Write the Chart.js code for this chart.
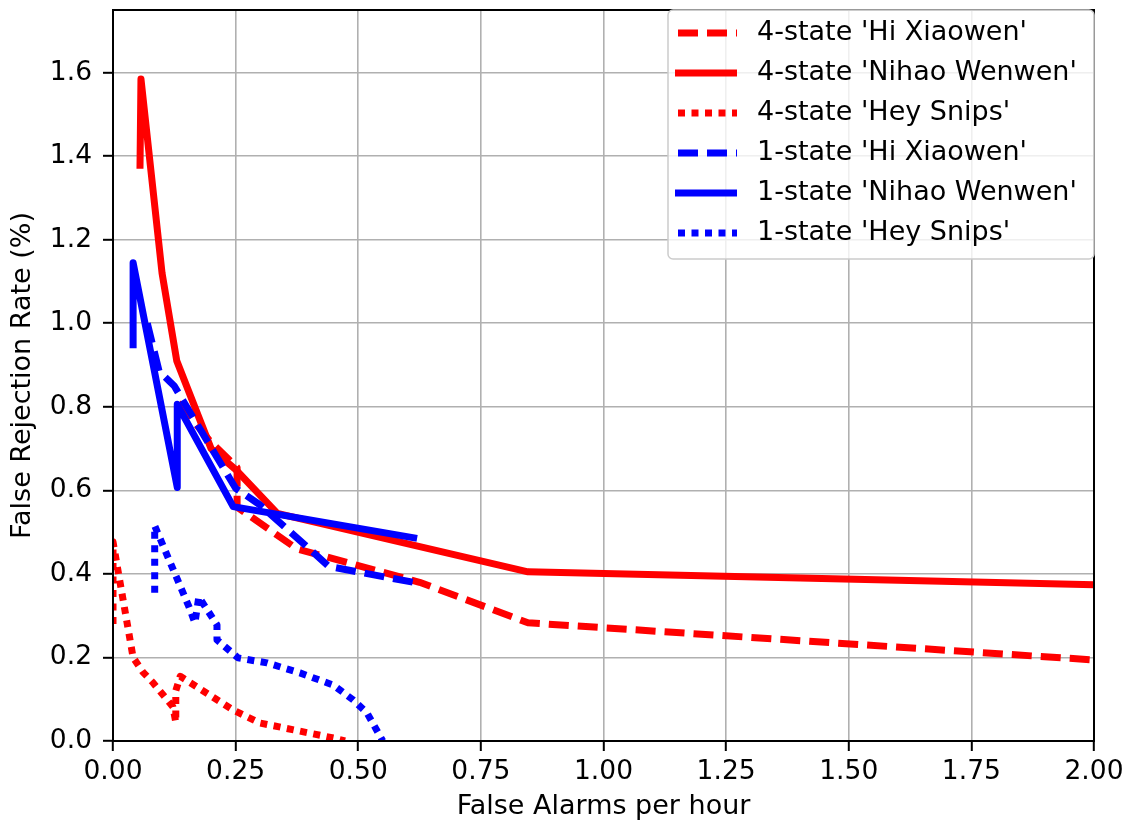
<!DOCTYPE html>
<html>
<head>
<meta charset="utf-8">
<script src="https://cdn.jsdelivr.net/npm/chart.js@4"></script>
<style>
  body { margin: 0; background: #fff; }
  #c { display: block; }
</style>
</head>
<body>
<canvas id="c" width="1138" height="829"></canvas>
<script>
// tick labels
const xTicks = [0, 0.25, 0.5, 0.75, 1.0, 1.25, 1.5, 1.75, 2.0];
const yTicks = [0, 0.2, 0.4, 0.6, 0.8, 1.0, 1.2, 1.4, 1.6];

const seriesNames = [
  "4-state 'Hi Xiaowen'", "4-state 'Nihao Wenwen'", "4-state 'Hey Snips'",
  "1-state 'Hi Xiaowen'", "1-state 'Nihao Wenwen'", "1-state 'Hey Snips'"
];

// false alarms per hour (x) / false rejection rate % (y)
const hiXiaowen4FA  = [0.133, 0.2, 0.253, 0.253, 0.375, 0.625, 0.846, 2.0];
const hiXiaowen4FRR = [0.81, 0.715, 0.655, 0.56, 0.46, 0.38, 0.283, 0.194];

const nihao4FA  = [0.055, 0.057, 0.1, 0.13, 0.2, 0.25, 0.335, 0.846, 2.0];
const nihao4FRR = [1.37, 1.585, 1.12, 0.91, 0.70, 0.65, 0.545, 0.405, 0.374];

const snips4FA  = [0.0, 0.0, 0.041, 0.061, 0.082, 0.122, 0.128, 0.128, 0.137, 0.245, 0.3, 0.45, 0.473];
const snips4FRR = [0.28, 0.477, 0.2, 0.165, 0.139, 0.082, 0.045, 0.12, 0.155, 0.074, 0.043, 0.007, 0.0];

const hiXiaowen1FA  = [0.07, 0.094, 0.125, 0.14, 0.25, 0.3, 0.44, 0.612];
const hiXiaowen1FRR = [1.0, 0.885, 0.85, 0.82, 0.605, 0.565, 0.418, 0.38];

const nihao1FA  = [0.041, 0.041, 0.131, 0.131, 0.245, 0.62];
const nihao1FRR = [0.94, 1.145, 0.607, 0.806, 0.561, 0.485];

const snips1FA  = [0.085, 0.085, 0.155, 0.167, 0.175, 0.212, 0.212, 0.255, 0.314, 0.381, 0.449, 0.49, 0.518, 0.55];
const snips1FRR = [0.355, 0.515, 0.321, 0.283, 0.345, 0.278, 0.242, 0.199, 0.187, 0.163, 0.134, 0.098, 0.067, 0.0];

function toPoints(xs, ys) {
  return xs.map((x, i) => ({ x: x, y: ys[i] }));
}

const DASHED = [20, 9];
const DOTTED = [7, 6.5];

function series(name, xs, ys, color, dash, order) {
  return {
    label: name,
    data: toPoints(xs, ys),
    borderColor: color,
    backgroundColor: color,
    borderWidth: 7,
    borderDash: dash,
    borderCapStyle: 'butt',
    borderJoinStyle: 'round',
    pointRadius: 0,
    tension: 0,
    fill: false,
    clip: 0,
    order: order
  };
}

//frame around the plot like matplotlib spines
const framePlugin = {
  id: 'frame',
  afterDatasetsDraw(chart) {
    const a = chart.chartArea;
    const ctx = chart.ctx;
    ctx.save();
    ctx.strokeStyle = '#000';
    ctx.lineWidth = 2;
    ctx.strokeRect(a.left, a.top, a.right - a.left, a.bottom - a.top);
    ctx.restore();
  }
};

//legend box in the upper right corner
const legendPlugin = {
  id: 'boxLegend',
  afterDraw(chart) {
    const a = chart.chartArea;
    const ctx = chart.ctx;
    const w = 426, h = 249;
    const x0 = a.right - w, y0 = a.top;
    ctx.save();
    ctx.beginPath();
    ctx.roundRect(x0, y0, w, h, 5);
    ctx.fillStyle = 'rgba(255,255,255,0.8)';
    ctx.fill();
    ctx.strokeStyle = '#cccccc';
    ctx.lineWidth = 1.5;
    ctx.stroke();

    chart.data.datasets.forEach((ds, i) => {
      const cy = y0 + 23 + i * 40;
      ctx.save();
      ctx.beginPath();
      ctx.rect(x0 + 7, cy - 10, 62, 20);
      ctx.clip();
      ctx.beginPath();
      ctx.setLineDash(ds.borderDash || []);
      ctx.lineCap = 'butt';
      ctx.strokeStyle = ds.borderColor;
      ctx.lineWidth = 7;
      ctx.moveTo(x0 + 7 + (ds.borderDash.length ? 3 : 0), cy);
      ctx.lineTo(x0 + 69, cy);
      ctx.stroke();
      ctx.restore();

      ctx.fillStyle = '#000';
      ctx.font = '27px "DejaVu Sans"';
      ctx.textBaseline = 'middle';
      ctx.textAlign = 'left';
      ctx.fillText(ds.label, x0 + 89, cy);
    });
    ctx.restore();
  }
};

const ctx = document.getElementById('c').getContext('2d');
const chart = new Chart(ctx, {
  type: 'line',
  data: {
    datasets: [
      series(seriesNames[0], hiXiaowen4FA, hiXiaowen4FRR, '#ff0000', DASHED, 6),
      series(seriesNames[1], nihao4FA, nihao4FRR, '#ff0000', [], 5),
      series(seriesNames[2], snips4FA, snips4FRR, '#ff0000', DOTTED, 4),
      series(seriesNames[3], hiXiaowen1FA, hiXiaowen1FRR, '#0000ff', DASHED, 3),
      series(seriesNames[4], nihao1FA, nihao1FRR, '#0000ff', [], 2),
      series(seriesNames[5], snips1FA, snips1FRR, '#0000ff', DOTTED, 1)
    ]
  },
  options: {
    responsive: false,
    animation: false,
    devicePixelRatio: 1,
    events: [],
    layout: { padding: { top: 10, right: 44, left: 0, bottom: 0 } },
    plugins: {
      legend: { display: false },
      tooltip: { enabled: false }
    },
    scales: {
      x: {
        type: 'linear',
        min: 0,
        max: 2.0,
        afterBuildTicks: (scale) => { scale.ticks = xTicks.map(v => ({ value: v })); },
        afterFit: (scale) => { scale.height = 88; scale.paddingLeft = 0; scale.paddingRight = 0; },
        ticks: {
          color: '#000',
          padding: 5,
          maxRotation: 0,
          font: { family: 'DejaVu Sans', size: 26.5 },
          callback: (v) => Number(v).toFixed(2)
        },
        grid: { color: '#b0b0b0', lineWidth: 1.6, tickColor: '#000', tickWidth: 2, tickLength: 10 },
        border: { display: false },
        title: {
          display: true,
          text: 'False Alarms per hour',
          color: '#000',
          font: { family: 'DejaVu Sans', size: 27 },
          padding: { top: 0, bottom: 6 }
        }
      },
      y: {
        type: 'linear',
        min: 0,
        max: 1.75,
        afterBuildTicks: (scale) => { scale.ticks = yTicks.map(v => ({ value: v })); },
        afterFit: (scale) => { scale.width = 113; scale.paddingTop = 0; scale.paddingBottom = 0; },
        ticks: {
          color: '#000',
          padding: 11,
          font: { family: 'DejaVu Sans', size: 26.5 },
          callback: (v) => Number(v).toFixed(1)
        },
        grid: { color: '#b0b0b0', lineWidth: 1.6, tickColor: '#000', tickWidth: 2, tickLength: 10 },
        border: { display: false },
        title: {
          display: true,
          text: 'False Rejection Rate (%)',
          color: '#000',
          font: { family: 'DejaVu Sans', size: 27 },
          padding: { top: 7, bottom: 0 }
        }
      }
    }
  },
  plugins: [framePlugin, legendPlugin]
});
</script>
</body>
</html>
